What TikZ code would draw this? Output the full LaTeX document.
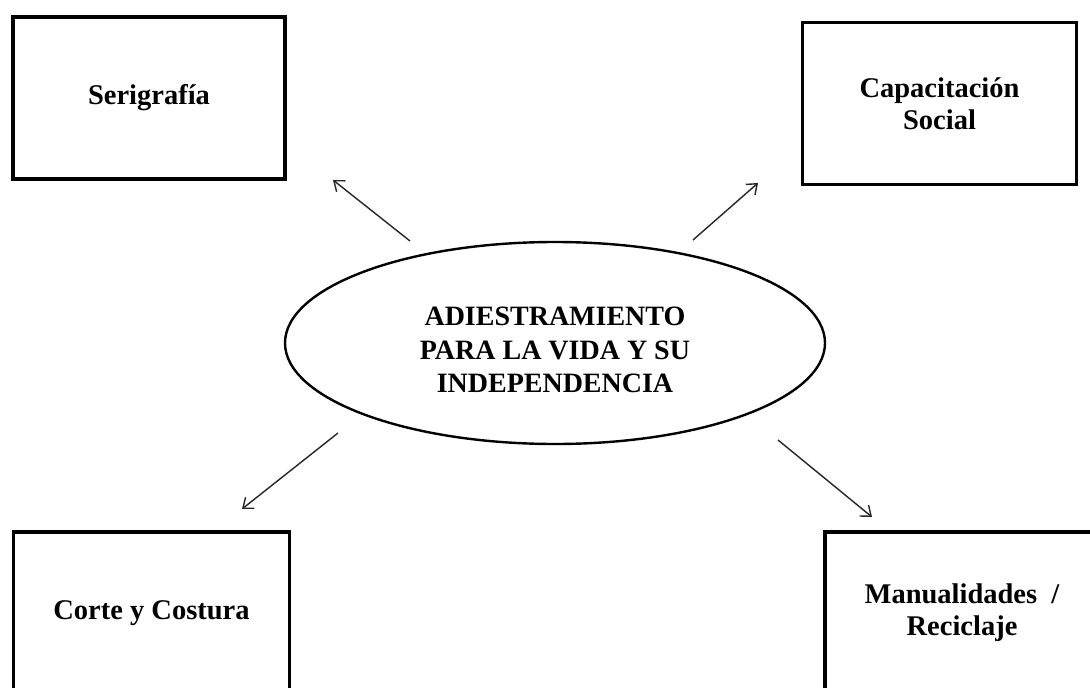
\documentclass[tikz,border=0pt]{standalone}
\usepackage{fontspec}
\setmainfont{Liberation Serif}
\usetikzlibrary{shapes.geometric,arrows.meta}
\begin{document}
\begin{tikzpicture}[x=1pt,y=-1pt,
  box/.style={draw, line width=3.2pt, rectangle, inner sep=0pt, align=center,
    font=\fontsize{28.5}{32}\selectfont\bfseries},
  center/.style={draw, line width=2.4pt, ellipse, inner sep=0pt,
    minimum width=540pt, minimum height=202pt},
  centertext/.style={align=center, inner sep=0pt,
    font=\fontsize{28}{33.5}\selectfont\bfseries},
  link/.style={line width=1.4pt, draw=black!85, -{Straight Barb[length=9pt,width=14pt,line width=1.4pt]}}]
\useasboundingbox (0,0) rectangle (1090,688);
\clip (0,0) rectangle (1090,688);
\fill[white] (0,0) rectangle (1090,688);
\node[box, minimum width=272pt, minimum height=162pt] (seri) at (149,98) {\raisebox{-4pt}{Serigrafía}};
\node[box, minimum width=274pt, minimum height=162pt] (capa) at (939.5,103.5) {Capacitación\\Social};
\node[box, minimum width=276pt, minimum height=162pt] (corte) at (151.5,613) {\raisebox{-3pt}{Corte y Costura}};
\node[box, minimum width=274pt, minimum height=162pt] (manu) at (962,613) {Manualidades \ /\\Reciclaje};
\node[center] (ell) at (555,343) {};
\node[centertext] (elltext) at (555,350) {ADIESTRAMIENTO\\PARA LA VIDA Y SU\\INDEPENDENCIA};
\coordinate (t1) at (410,241); \coordinate (h1) at (333,180);
\coordinate (t2) at (693,240); \coordinate (h2) at (758,183);
\coordinate (t3) at (338,433); \coordinate (h3) at (242,509);
\coordinate (t4) at (778,440); \coordinate (h4) at (872,517);
\draw[link] (t1) -- (h1);
\draw[link] (t2) -- (h2);
\draw[link] (t3) -- (h3);
\draw[link] (t4) -- (h4);
\end{tikzpicture}
\end{document}
